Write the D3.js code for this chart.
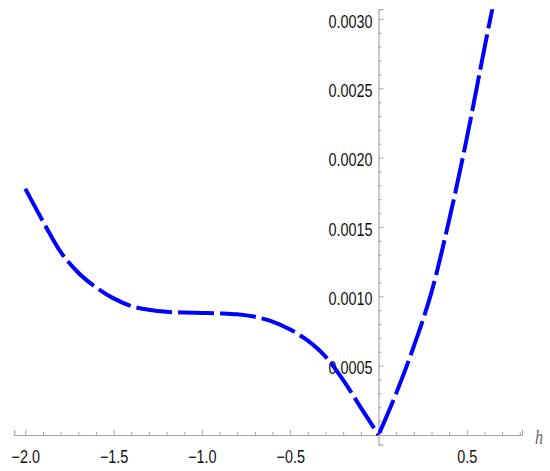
<!DOCTYPE html>
<html>
<head>
<meta charset="utf-8">
<script src="https://cdn.jsdelivr.net/npm/d3@7"></script>
<style>
  body { margin: 0; background: #ffffff; }
  svg { display: block; }
</style>
</head>
<body>
<div id="chart_div"></div>
<script>

/********
 * Data *
 ********/

var hValues = [-2.0, -1.9, -1.8, -1.7, -1.6, -1.5, -1.4, -1.3, -1.2, -1.1, -1.0,
               -0.9, -0.8, -0.7, -0.6, -0.5, -0.4, -0.3, -0.2, -0.1, 0.0,
               0.1, 0.2, 0.3, 0.4, 0.5, 0.6, 0.66];
var fValues = [0.001775, 0.00154, 0.00132, 0.00117, 0.001065, 0.000985, 0.00093, 0.000903, 0.000888, 0.000883, 0.00088,
               0.000877, 0.00087, 0.000852, 0.000818, 0.00076, 0.00068, 0.000565, 0.000396, 0.000197, 0.0,
               0.0003, 0.00064, 0.00103, 0.00155, 0.00214, 0.00279, 0.00317];

var xMajorTicks = [-2.0, -1.5, -1.0, -0.5, 0.5];
var yMajorTicks = [0.0005, 0.0010, 0.0015, 0.0020, 0.0025, 0.0030];
var xAxisLabel = 'h';

/**********
 * Layout *
 **********/

var gvWidth = 550;
var gvHeight = 471;
var gvAxisColour = '#a6a6a6';
var gvTextScale = 0.8;   // the reference text is horizontally squeezed
var gvDash = [36, 6];

function buildChart() {

  var svg = d3.select('#chart_div')
    .append('svg')
    .attr('width', gvWidth)
    .attr('height', gvHeight);

  var xScale = d3.scaleLinear()
    .domain([-2.063, 0.812])
    .range([14.2, 521.9]);

  var yScale = d3.scaleLinear()
    .domain([-0.00007, 0.00307])
    .range([444.7, 9.2]);

  var x0 = xScale(0);
  var y0 = yScale(0);

  // minor ticks every 0.1 / 0.0001
  var xMinor = d3.range(-20, 9).map(function(d) { return d / 10; })
    .filter(function(d) { return Math.abs(d * 2 - Math.round(d * 2)) > 1e-6; });
  var yMinor = d3.range(1, 31).map(function(d) { return d / 10000; })
    .filter(function(d) { return Math.abs(d * 2000 - Math.round(d * 2000)) > 1e-6; });

  /*
   * X axis
   */
  var xAxisG = svg.append('g')
    .attr('transform', 'translate(0,' + y0 + ')')
    .call(d3.axisBottom(xScale)
      .tickValues(xMajorTicks)
      .tickFormat(d3.format('.1f'))
      .tickSize(-5)
      .tickPadding(15));

  svg.append('g')
    .attr('transform', 'translate(0,' + y0 + ')')
    .call(d3.axisBottom(xScale)
      .tickValues(xMinor)
      .tickFormat('')
      .tickSize(-3))
    .call(function(g) { g.select('.domain').remove(); });

  /*
   * Y axis
   */
  var yAxisG = svg.append('g')
    .attr('transform', 'translate(' + x0 + ',0)')
    .call(d3.axisLeft(yScale)
      .tickValues(yMajorTicks)
      .tickFormat(d3.format('.4f'))
      .tickSize(-5)
      .tickPadding(6));

  svg.append('g')
    .attr('transform', 'translate(' + x0 + ',0)')
    .call(d3.axisLeft(yScale)
      .tickValues(yMinor)
      .tickFormat('')
      .tickSize(-3))
    .call(function(g) { g.select('.domain').remove(); });

  // styling of both axes
  svg.selectAll('.domain')
    .attr('stroke', gvAxisColour)
    .attr('stroke-width', 1.2);
  svg.selectAll('.tick line')
    .attr('stroke', gvAxisColour)
    .attr('stroke-width', 1);

  xAxisG.selectAll('.tick text')
    .attr('font-family', 'Liberation Sans, Arial, sans-serif')
    .attr('font-size', 18)
    .attr('fill', '#111111')
    .attr('transform', 'scale(' + gvTextScale + ',1)');

  yAxisG.selectAll('.tick text')
    .attr('font-family', 'Liberation Sans, Arial, sans-serif')
    .attr('font-size', 18)
    .attr('fill', '#111111')
    .attr('x', -6 / gvTextScale)
    .attr('dy', '0.45em')
    .attr('transform', 'scale(' + gvTextScale + ',1)');

  svg.append('text')
    .attr('transform', 'translate(' + (xScale(0.812) + 17) + ',' + (y0 + 9) + ') scale(' + gvTextScale + ',1)')
    .attr('text-anchor', 'middle')
    .attr('font-family', 'Liberation Serif, Times New Roman, serif')
    .attr('font-style', 'italic')
    .attr('font-size', 20)
    .attr('fill', '#666666')
    .text(xAxisLabel);

  /*
   * Curve: drawn as two pieces so the cusp at h = 0 stays sharp,
   * the dash pattern of the second piece carries on from the first
   */
  svg.append('clipPath')
    .attr('id', 'plotClip')
    .append('rect')
    .attr('x', xScale(-2.063))
    .attr('y', yScale(0.00307))
    .attr('width', xScale(0.812) - xScale(-2.063))
    .attr('height', yScale(-0.00007) - yScale(0.00307));

  var points = hValues.map(function(h, i) { return [h, fValues[i]]; });
  var leftPoints = points.filter(function(d) { return d[0] <= 0; });
  var rightPoints = points.filter(function(d) { return d[0] >= 0; });

  var line = d3.line()
    .x(function(d) { return xScale(d[0]); })
    .y(function(d) { return yScale(d[1]); })
    .curve(d3.curveMonotoneX);

  var leftPath = svg.append('path')
    .datum(leftPoints)
    .attr('clip-path', 'url(#plotClip)')
    .attr('d', line)
    .attr('fill', 'none')
    .attr('stroke', '#0000ff')
    .attr('stroke-width', 4)
    .attr('stroke-linejoin', 'miter')
    .attr('stroke-dasharray', gvDash.join(','));

  var period = gvDash[0] + gvDash[1];
  var offset = leftPath.node().getTotalLength() % period;

  svg.append('path')
    .datum(rightPoints)
    .attr('clip-path', 'url(#plotClip)')
    .attr('d', line)
    .attr('fill', 'none')
    .attr('stroke', '#0000ff')
    .attr('stroke-width', 4)
    .attr('stroke-dasharray', gvDash.join(','))
    .attr('stroke-dashoffset', -offset);
}

buildChart();

</script>
</body>
</html>
